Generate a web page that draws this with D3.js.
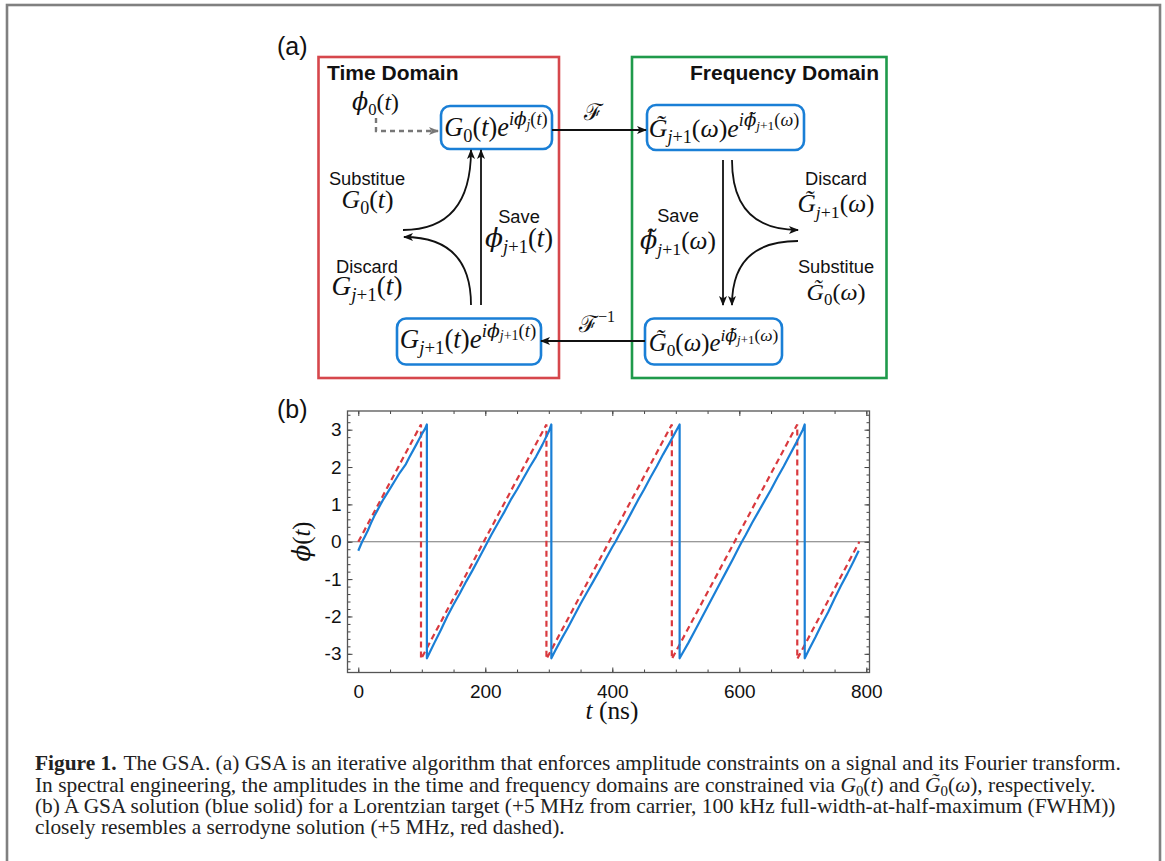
<!DOCTYPE html>
<html lang="en">
<head>
    <meta charset="UTF-8">
    <title>GSA figure</title>
    <script src="https://d3js.org/d3.v7.min.js"></script>
    <style>
        body { margin: 0; background: #fff; }
        svg { display: block; }
        .sans { font-family: "Liberation Sans", Arial, sans-serif; fill: #111; }
        .math { font-family: "Liberation Serif", "DejaVu Serif", serif; fill: #111; }
        .caption { font-family: "Liberation Serif", "Times New Roman", serif; fill: #222; }
        .tick text { font-family: "Liberation Sans", Arial, sans-serif; font-size: 19px; fill: #111; }
        .tick line { stroke: #444; }
        .blue { fill: none; stroke: #1a7fd6; stroke-width: 2.2px; stroke-linejoin: round; }
        .red { fill: none; stroke: #d9393e; stroke-width: 2.2px; stroke-dasharray: 6, 4; }
        .arrow { fill: none; stroke: #111; stroke-width: 1.8px; }
        .box { fill: none; stroke: #1a7fd6; stroke-width: 2.6px; }
    </style>
</head>
<body>
<div id="chart"></div>
<script>
    // serrodyne solution (red dashed)
    var redT   = [0, 98.75, 98.75, 296.25, 296.25, 493.75, 493.75, 691.25, 691.25, 789];
    var redPhi = [0, 3.14, -3.14, 3.14, -3.14, 3.14, -3.14, 3.14, -3.14, 0];

    // GSA solution (blue solid)
    var blueT = [0, 3, 6, 10, 15, 20, 25, 30, 35, 40, 50, 60, 65, 70, 75, 80, 90, 100, 105, 108,
        108, 112, 120, 130, 140, 150, 160, 170, 180, 190, 200, 210, 220, 230, 240, 250, 260, 270, 280, 290, 300, 304,
        304, 310, 320, 330, 340, 350, 360, 370, 380, 390, 400, 405, 410, 420, 430, 440, 450, 460, 470, 480, 490, 500, 506,
        506, 510, 520, 530, 540, 550, 560, 570, 580, 590, 600, 604, 610, 620, 630, 640, 650, 660, 670, 680, 690, 700, 703,
        703, 710, 720, 730, 740, 750, 760, 770, 780, 788];
    var bluePhi = [-0.24, -0.12, 0, 0.13, 0.3, 0.5, 0.68, 0.84, 1.0, 1.15, 1.42, 1.7, 1.84, 1.96, 2.08, 2.25, 2.56, 2.88, 3.02, 3.14,
        -3.12, -2.98, -2.7, -2.36, -2.0, -1.68, -1.38, -1.06, -0.76, -0.44, -0.12, 0.2, 0.5, 0.8, 1.12, 1.4, 1.7, 2.0, 2.28, 2.6, 2.95, 3.14,
        -3.12, -2.92, -2.6, -2.3, -1.98, -1.66, -1.36, -1.06, -0.76, -0.45, -0.14, 0, 0.16, 0.46, 0.78, 1.1, 1.4, 1.72, 2.02, 2.34, 2.64, 2.95, 3.14,
        -3.12, -3.0, -2.7, -2.38, -2.06, -1.74, -1.42, -1.1, -0.78, -0.46, -0.13, 0, 0.18, 0.5, 0.8, 1.1, 1.4, 1.72, 2.02, 2.34, 2.66, 3.0, 3.14,
        -3.12, -2.88, -2.55, -2.2, -1.88, -1.52, -1.18, -0.86, -0.52, -0.24];

    var xTicks = [0, 200, 400, 600, 800];
    var xMinor = d3.range(0, 801, 50);
    var yTicks = [-3, -2, -1, 0, 1, 2, 3];
    var yMinor = d3.range(-34, 35, 2).map(function(d) { return d / 10; });

    var w = 1165, h = 861;

    var svg = d3.select("#chart").append("svg")
        .attr("width", w)
        .attr("height", h);

    var defs = svg.append("defs");
    function marker(id, color) {
        defs.append("marker")
            .attr("id", id)
            .attr("markerUnits", "userSpaceOnUse")
            .attr("viewBox", "0 0 10 8")
            .attr("refX", 9).attr("refY", 4)
            .attr("markerWidth", 10).attr("markerHeight", 8)
            .attr("orient", "auto")
            .append("path")
            .attr("d", "M0,0 L10,4 L0,8 L2.5,4 z")
            .attr("fill", color);
    }
    marker("ah", "#111");
    marker("ahGray", "#777");

    // outer frame
    svg.append("rect")
        .attr("x", 7).attr("y", 5)
        .attr("width", 1153).attr("height", 900)
        .attr("fill", "none").attr("stroke", "#808080").attr("stroke-width", 2.6);

    // math text: parts are [text, level, italic]; level 0 base, -1 sub, 1 sup, 2 sub of sup
    var offs = { "0": 0, "-1": 0.22, "1": -0.42, "2": -0.28 };
    var scl = { "0": 1, "-1": 0.7, "1": 0.7, "2": 0.52 };
    function mathText(g, x, y, parts, size, anchor) {
        var t = g.append("text")
            .attr("class", "math")
            .attr("x", x).attr("y", y)
            .attr("text-anchor", anchor || "start")
            .style("font-size", size + "px");
        var cur = 0;
        parts.forEach(function(p) {
            var lv = String(p[1] || 0);
            var o = offs[lv] * size;
            var ts = t.append("tspan")
                .attr("dy", o - cur)
                .style("font-size", (scl[lv] * size) + "px")
                .style("font-style", p[2] === "i" ? "italic" : "normal")
                .text(p[0]);
            if (/[ϕℱ]/.test(p[0])) ts.style("font-family", "'DejaVu Serif', serif");
            cur = o;
        });
        return t;
    }
    function mathFit(g, x, y, parts, width, anchor) {
        var t = mathText(g, x, y, parts, 20, anchor);
        var bw = t.node().getBBox().width;
        t.remove();
        return mathText(g, x, y, parts, 20 * width / bw, anchor);
    }

    var dg = svg.append("g");

    // panel labels
    dg.append("text").attr("class", "sans").attr("x", 277).attr("y", 55)
        .style("font-size", "25px").text("(a)");
    dg.append("text").attr("class", "sans").attr("x", 277).attr("y", 418)
        .style("font-size", "25px").text("(b)");

    // domain boxes
    dg.append("rect").attr("x", 318.5).attr("y", 57).attr("width", 240.5).attr("height", 321)
        .attr("fill", "none").attr("stroke", "#d6474c").attr("stroke-width", 2.6);
    dg.append("rect").attr("x", 632).attr("y", 57).attr("width", 254.5).attr("height", 321)
        .attr("fill", "none").attr("stroke", "#1f9a4b").attr("stroke-width", 2.6);

    dg.append("text").attr("class", "sans").attr("x", 327).attr("y", 80)
        .style("font-size", "21px").style("font-weight", "bold").text("Time Domain");
    dg.append("text").attr("class", "sans").attr("x", 879).attr("y", 80)
        .attr("text-anchor", "end")
        .style("font-size", "21px").style("font-weight", "bold").text("Frequency Domain");

    // rounded state boxes
    var boxes = [[441, 106, 111, 43], [647, 105, 157, 45], [397, 318.5, 144, 46], [645, 318.5, 137, 46]];
    boxes.forEach(function(b) {
        dg.append("rect").attr("class", "box")
            .attr("x", b[0]).attr("y", b[1]).attr("width", b[2]).attr("height", b[3])
            .attr("rx", 9).attr("ry", 9);
    });

    mathFit(dg, 496, 136, [["G", 0, "i"], ["0", -1], ["(", 0], ["t", 0, "i"], [")", 0], ["e", 0, "i"],
        ["i", 1, "i"], ["ϕ", 1, "i"], ["j", 2, "i"], ["(", 1], ["t", 1, "i"], [")", 1]], 104, "middle");
    mathFit(dg, 724, 137, [["G̃", 0, "i"], ["j", -1, "i"], ["+1", -1], ["(", 0], ["ω", 0, "i"], [")", 0], ["e", 0, "i"],
        ["i", 1, "i"], ["ϕ̃", 1, "i"], ["j", 2, "i"], ["+1", 2], ["(", 1], ["ω", 1, "i"], [")", 1]], 151, "middle");
    mathFit(dg, 468, 348, [["G", 0, "i"], ["j", -1, "i"], ["+1", -1], ["(", 0], ["t", 0, "i"], [")", 0], ["e", 0, "i"],
        ["i", 1, "i"], ["ϕ", 1, "i"], ["j", 2, "i"], ["+1", 2], ["(", 1], ["t", 1, "i"], [")", 1]], 137, "middle");
    mathFit(dg, 713.5, 351, [["G̃", 0, "i"], ["0", -1], ["(", 0], ["ω", 0, "i"], [")", 0], ["e", 0, "i"],
        ["i", 1, "i"], ["ϕ̃", 1, "i"], ["j", 2, "i"], ["+1", 2], ["(", 1], ["ω", 1, "i"], [")", 1]], 130, "middle");

    mathFit(dg, 352, 110, [["ϕ", 0, "i"], ["0", -1], ["(", 0], ["t", 0, "i"], [")", 0]], 47, "start");

    // sans labels
    function label(x, y, s) {
        dg.append("text").attr("class", "sans").attr("x", x).attr("y", y)
            .attr("text-anchor", "middle").style("font-size", "18.3px").text(s);
    }
    label(367, 185, "Substitue");
    label(519, 223, "Save");
    label(367, 273, "Discard");
    label(836, 185, "Discard");
    label(678, 222, "Save");
    label(836, 273, "Substitue");

    mathFit(dg, 367.5, 208, [["G", 0, "i"], ["0", -1], ["(", 0], ["t", 0, "i"], [")", 0]], 52, "middle");
    mathFit(dg, 519, 247, [["ϕ", 0, "i"], ["j", -1, "i"], ["+1", -1], ["(", 0], ["t", 0, "i"], [")", 0]], 68, "middle");
    mathFit(dg, 367, 295, [["G", 0, "i"], ["j", -1, "i"], ["+1", -1], ["(", 0], ["t", 0, "i"], [")", 0]], 71, "middle");
    mathFit(dg, 836, 212, [["G̃", 0, "i"], ["j", -1, "i"], ["+1", -1], ["(", 0], ["ω", 0, "i"], [")", 0]], 77, "middle");
    mathFit(dg, 678, 249, [["ϕ̃", 0, "i"], ["j", -1, "i"], ["+1", -1], ["(", 0], ["ω", 0, "i"], [")", 0]], 76, "middle");
    mathFit(dg, 836, 300, [["G̃", 0, "i"], ["0", -1], ["(", 0], ["ω", 0, "i"], [")", 0]], 59, "middle");

    mathText(dg, 593, 120, [["ℱ", 0]], 23, "middle");
    mathText(dg, 579, 332, [["ℱ", 0], ["−1", 1]], 23, "start");

    // arrows
    var arrows = [
        "M552,130 L646,130",
        "M645,341 L541,341",
        "M481,305 L481,150",
        "M403,230 Q471,230 471,150",
        "M471,305 Q471,237 404,237",
        "M723,160 L723,305",
        "M732,160 Q732,230 798,230",
        "M798,241 Q732,241 732,305"
    ];
    arrows.forEach(function(d) {
        dg.append("path").attr("class", "arrow").attr("d", d).attr("marker-end", "url(#ah)");
    });
    dg.append("path")
        .attr("d", "M376,118 L376,131 L438,131")
        .attr("fill", "none").attr("stroke", "#777").attr("stroke-width", 2.4)
        .attr("stroke-dasharray", "5,4")
        .attr("marker-end", "url(#ahGray)");

    // (b) phase plot
    var pLeft = 347.5, pRight = 869.5, pTop = 411, pBottom = 672.5;
    var xScale = d3.scaleLinear().domain([-17, 805]).range([pLeft, pRight]);
    var yScale = d3.scaleLinear().domain([-3.5, 3.5]).range([pBottom, pTop]);

    var pg = svg.append("g");

    pg.append("line")
        .attr("x1", pLeft).attr("x2", pRight)
        .attr("y1", yScale(0)).attr("y2", yScale(0))
        .attr("stroke", "#777").attr("stroke-width", 1.2);

    var line = d3.line()
        .x(function(d) { return xScale(d[0]); })
        .y(function(d) { return yScale(d[1]); });

    var redData = redT.map(function(t, i) { return [t, redPhi[i]]; });
    var blueData = blueT.map(function(t, i) { return [t, bluePhi[i]]; });

    pg.append("path").datum(redData).attr("class", "red").attr("d", line);
    pg.append("path").datum(blueData).attr("class", "blue").attr("d", line);

    function axis(gen, transform, vals, size, labels) {
        var a = gen.tickValues(vals).tickSize(size).tickSizeOuter(0);
        if (!labels) a.tickFormat("");
        var g = pg.append("g").attr("transform", transform).call(a);
        g.select(".domain").remove();
        return g;
    }
    axis(d3.axisBottom(xScale).tickPadding(12), "translate(0," + pBottom + ")", xTicks, -5, true);
    axis(d3.axisBottom(xScale), "translate(0," + pBottom + ")", xMinor, -3, false);
    axis(d3.axisTop(xScale), "translate(0," + pTop + ")", xTicks, -5, false);
    axis(d3.axisTop(xScale), "translate(0," + pTop + ")", xMinor, -3, false);
    axis(d3.axisLeft(yScale).tickPadding(6).tickFormat(d3.format("d")), "translate(" + pLeft + ",0)", yTicks, -5, true);
    axis(d3.axisLeft(yScale), "translate(" + pLeft + ",0)", yMinor, -3, false);
    axis(d3.axisRight(yScale), "translate(" + pRight + ",0)", yTicks, -5, false);
    axis(d3.axisRight(yScale), "translate(" + pRight + ",0)", yMinor, -3, false);

    pg.selectAll(".tick text").text(function() {
        return d3.select(this).text().replace("−", "-");
    });

    pg.append("rect")
        .attr("x", pLeft).attr("y", pTop)
        .attr("width", pRight - pLeft).attr("height", pBottom - pTop)
        .attr("fill", "none").attr("stroke", "#555").attr("stroke-width", 1.3);

    mathFit(pg, 612, 719, [["t", 0, "i"], [" (ns)", 0]], 53, "middle");
    var yl = pg.append("g").attr("transform", "translate(310,541.5) rotate(-90)");
    mathFit(yl, 0, 0, [["ϕ", 0, "i"], ["(", 0], ["t", 0, "i"], [")", 0]], 40, "middle");

    // caption
    var capLines = [
        [["Figure 1.", "b"], ["The GSA. (a) GSA is an iterative algorithm that enforces amplitude constraints on a signal and its Fourier transform.", "n", 7]],
        [["In spectral engineering, the amplitudes in the time and frequency domains are constrained via ", "n"],
            ["G", "i"], ["0", "sub"], ["(", "n"], ["t", "i"], [") and ", "n"], ["G̃", "i"], ["0", "sub"], ["(", "n"], ["ω", "i"], ["), respectively.", "n"]],
        [["(b) A GSA solution (blue solid) for a Lorentzian target (+5 MHz from carrier, 100 kHz full-width-at-half-maximum (FWHM))", "n"]],
        [["closely resembles a serrodyne solution (+5 MHz, red dashed).", "n"]]
    ];
    var capY = [770, 791.5, 812.5, 833.5];

    function capText(size) {
        var cg = svg.append("g");
        capLines.forEach(function(ln, i) {
            var t = cg.append("text").attr("class", "caption")
                .attr("x", 35).attr("y", capY[i]).style("font-size", size + "px");
            var sub = false;
            ln.forEach(function(p) {
                var ts = t.append("tspan").text(p[0]);
                if (p[2]) ts.attr("dx", p[2]);
                if (p[1] === "b") ts.style("font-weight", "bold");
                if (p[1] === "i") ts.style("font-style", "italic");
                if (p[1] === "sub") {
                    ts.attr("dy", size * 0.2).style("font-size", (size * 0.7) + "px");
                    sub = true;
                } else if (sub) {
                    ts.attr("dy", -size * 0.2);
                    sub = false;
                }
            });
        });
        return cg;
    }
    var trial = capText(18);
    var w1 = trial.select("text").node().getBBox().width;
    trial.remove();
    capText(18 * 1088 / w1);
</script>
</body>
</html>
